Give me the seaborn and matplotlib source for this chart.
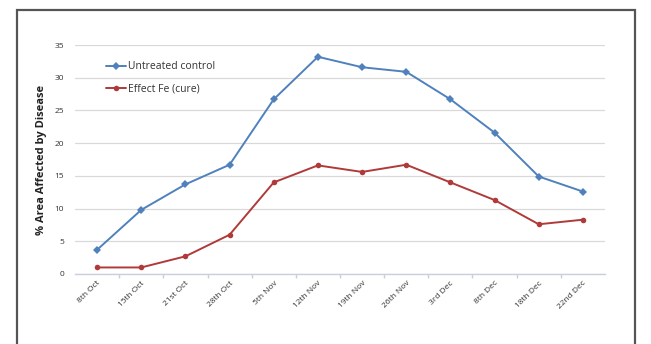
import matplotlib
matplotlib.use("Agg")
import matplotlib.pyplot as plt
import seaborn as sns
import pandas as pd
from matplotlib.patches import Rectangle
from matplotlib.ticker import FixedLocator

dates = ["8th Oct", "15th Oct", "21st Oct", "28th Oct", "5th Nov", "12th Nov",
         "19th Nov", "26th Nov", "3rd Dec", "8th Dec", "18th Dec", "22nd Dec"]
untreated = [3.7, 9.8, 13.7, 16.7, 26.7, 33.2, 31.6, 30.9, 26.7, 21.6, 14.9, 12.6]
effect_fe = [1.0, 1.0, 2.7, 6.0, 14.0, 16.6, 15.6, 16.7, 14.0, 11.3, 7.6, 8.3]
series_names = ["Untreated control", "Effect Fe (cure)"]
y_ticks = [0, 5, 10, 15, 20, 25, 30, 35]

df = pd.DataFrame({
    "date": dates * 2,
    "value": untreated + effect_fe,
    "series": [series_names[0]] * len(dates) + [series_names[1]] * len(dates),
})

sns.set_theme(style="white")
plt.rcParams["font.family"] = ["Open Sans", "DejaVu Sans"]

fig = plt.figure(figsize=(6.51, 3.44), dpi=100)
fig.patch.set_facecolor("white")
# outer frame
fig.patches.append(Rectangle((17 / 651, -0.01), (635 - 17) / 651, 1 - 10 / 344 + 0.01,
                             transform=fig.transFigure, fill=False,
                             edgecolor="#555555", linewidth=1.6, zorder=0))

ax = fig.add_axes([75 / 651, 1 - 274 / 344, (605 - 75) / 651, (274 - 45) / 344])
palette = {series_names[0]: "#4F81BD", series_names[1]: "#B03A3A"}
sns.lineplot(data=df, x="date", y="value", hue="series", style="series",
             palette=palette, markers={series_names[0]: "D", series_names[1]: "o"},
             dashes=False, markersize=4, linewidth=1.4, sort=False, ax=ax,
             markeredgewidth=0)

ax.set_xlim(-0.5, len(dates) - 0.5)
ax.set_ylim(0, 35)
ax.set_yticks(y_ticks)
ax.set_yticklabels([str(t) for t in y_ticks], fontsize=6, color="#333333")
ax.set_xticks(range(len(dates)))
ax.set_xticklabels(dates, rotation=45, ha="right", rotation_mode="anchor",
                   fontsize=6, color="#333333")
ax.xaxis.set_minor_locator(FixedLocator([i + 0.5 for i in range(len(dates) - 1)]))
ax.set_xlabel("")
ax.set_ylabel("% Area Affected by Disease", fontsize=8, fontweight="bold",
              color="#222222", labelpad=5)
ax.yaxis.grid(True, color="#D9D9D9", linewidth=0.9)
ax.set_axisbelow(True)
for s in ["top", "right", "left"]:
    ax.spines[s].set_visible(False)
ax.spines["bottom"].set_color("#C8D0DC")
ax.spines["bottom"].set_linewidth(1.0)
ax.tick_params(axis="y", length=0, pad=8)
ax.tick_params(axis="x", which="major", length=0, pad=4)
ax.tick_params(axis="x", which="minor", length=3, color="#C8D0DC", bottom=True)

leg = ax.legend(loc="upper left", bbox_to_anchor=(0.04, 0.97), frameon=False,
                fontsize=7.5, handlelength=2.0, handletextpad=0.2, labelspacing=1.05)
for t in leg.get_texts():
    t.set_color("#333333")

fig.savefig("out.png", dpi=100, facecolor="white")
